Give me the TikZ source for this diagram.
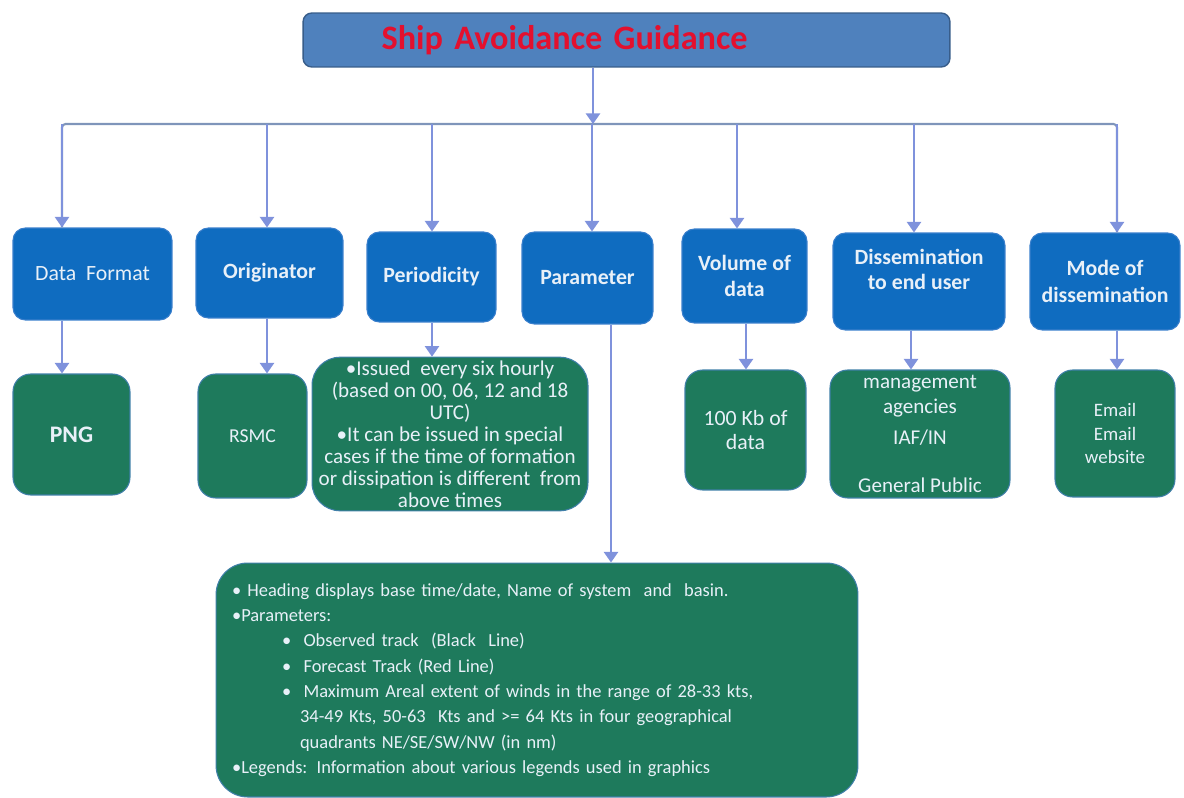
\documentclass[tikz,border=0pt]{standalone}
\usepackage{fontspec}
\setmainfont{Carlito}
\usetikzlibrary{arrows.meta, positioning}
\definecolor{titlefill}{HTML}{4F81BD}
\definecolor{titleline}{HTML}{385D8A}
\definecolor{titletext}{HTML}{E3102E}
\definecolor{headfill}{HTML}{0F6CC0}
\definecolor{headline}{HTML}{3A7FCC}
\definecolor{leaffill}{HTML}{1E7A5C}
\definecolor{leafline}{HTML}{3F7FA8}
\definecolor{bustone}{HTML}{7F95BA}
\definecolor{linktone}{HTML}{7F92DC}
\definecolor{boxtext}{HTML}{E8F0F8}

\begin{document}
\begin{tikzpicture}[
  x=0.02cm, y=-0.02cm,
  font=\fontsize{10.5}{13}\selectfont,
  bus/.style={
    draw=bustone,
    line width=1.2pt,
    rounded corners=2pt
  },
  link/.style={
    draw=linktone,
    line width=1.2pt,
    -{Triangle[width=8pt,length=6pt]}
  },
  headbox/.style={
    draw=headline,
    fill=headfill,
    text=boxtext,
    font=\fontsize{12.4}{15}\selectfont\bfseries,
    rounded corners=7pt,
    line width=0.6pt,
    align=center,
    inner sep=2pt
  },
  leafbox/.style={
    draw=leafline,
    fill=leaffill,
    text=boxtext,
    font=\fontsize{12.4}{14}\selectfont,
    rounded corners=10pt,
    line width=0.6pt,
    align=center,
    inner sep=2pt
  }
]
\useasboundingbox (0,0) rectangle (1184,798);

% Title
\node[
  draw=titleline,
  fill=titlefill,
  rounded corners=5pt,
  line width=0.8pt,
  minimum width=12.94cm,
  minimum height=1.08cm,
  text width=12.7cm,
  align=left,
  text=titletext,
  font=\fontsize{19.5}{22}\selectfont\bfseries
] (title) at (626.5,40) {\hspace*{1.45cm}Ship Avoidance Guidance};

% Top row
\node[headbox, font=\fontsize{12.4}{15}\selectfont, minimum width=3.18cm, minimum height=1.84cm] (format) at (92.5,274) {Data\ \ Format};
\node[headbox, minimum width=2.94cm, minimum height=1.80cm] (origin) at (269.5,273) {Originator};
\node[headbox, minimum width=2.58cm, minimum height=1.80cm] (period) at (431.5,277) {Periodicity};
\node[headbox, minimum width=2.62cm, minimum height=1.84cm] (param) at (587.5,278) {Parameter};
\node[headbox, minimum width=2.50cm, minimum height=1.88cm] (volume) at (744.5,276) {Volume of\\data};
\node[headbox, font=\fontsize{12.4}{14.2}\selectfont\bfseries, minimum width=3.44cm, minimum height=1.94cm] (enduser) at (919,281.5) {Dissemination\\to end user\\~};
\node[headbox, minimum width=3.00cm, minimum height=1.94cm] (mode) at (1105,281.5) {Mode of\\dissemination};

% Bottom row
\node[leafbox, font=\fontsize{13.5}{14}\selectfont\bfseries, minimum width=2.34cm, minimum height=2.42cm] (png) at (71.5,434.5) {PNG};
\node[leafbox, font=\fontsize{11.2}{14}\selectfont, minimum width=2.18cm, minimum height=2.48cm] (rsmc) at (252.5,436) {RSMC};
\node[leafbox, font=\fontsize{12}{12.5}\selectfont, rounded corners=16pt, minimum width=5.52cm, minimum height=3.04cm] (issue) at (450,434)
{\textbullet Issued\ \ every six hourly\\(based on 00, 06, 12 and 18\\UTC)\\\textbullet It can be issued in special\\cases if the time of formation\\or dissipation is different\ \ from\\above times};
\node[leafbox, minimum width=2.42cm, minimum height=2.40cm] (kb) at (745.5,430) {100 Kb of\\data};
\node[leafbox, font=\fontsize{12}{14}\selectfont, minimum width=3.60cm, minimum height=2.56cm] (users) at (920,434)
{management\\agencies\\[4pt]IAF/IN\\[13pt]General Public};
\node[leafbox, font=\fontsize{10.8}{13.6}\selectfont, minimum width=2.40cm, minimum height=2.54cm] (email) at (1115,433.5) {Email\\Email\\website};

% Parameter details
\node[leafbox, rounded corners=18pt, align=left, text width=12.2cm, inner sep=0pt,
  font=\fontsize{10.5}{14.4}\selectfont,
  minimum width=12.84cm, minimum height=4.68cm] (detail) at (537,680)
{\textbullet\ Heading displays base time/date, Name of system\ \ and\ \ basin.\\
\textbullet Parameters:\\
\hspace*{1.0cm}\textbullet\ \ Observed track\ \ (Black\ \ Line)\\
\hspace*{1.0cm}\textbullet\ \ Forecast Track (Red Line)\\
\hspace*{1.0cm}\textbullet\ \ Maximum Areal extent of winds in the range of 28-33 kts,\\
\hspace*{1.36cm}34-49 Kts, 50-63\ \ Kts and >= 64 Kts in four geographical\\
\hspace*{1.36cm}quadrants NE/SE/SW/NW (in nm)\\
\textbullet Legends: Information about various legends used in graphics};

% Bus
\coordinate (hub) at (593,124);
\coordinate (b1) at (62,124);
\coordinate (b2) at (267,124);
\coordinate (b3) at (432,124);
\coordinate (b4) at (592,124);
\coordinate (b5) at (737,124);
\coordinate (b6) at (914,124);
\coordinate (b7) at (1117,124);
\draw[bus] (b1 |- format.north) -- (b1) -- (b7) -- (b7 |- mode.north);
\draw[link] (title.south -| hub) -- (hub);

% Arrows to top row
\draw[link] (b1) -- (b1 |- format.north);
\draw[link] (b2) -- (b2 |- origin.north);
\draw[link] (b3) -- (b3 |- period.north);
\draw[link] (b4) -- (b4 |- param.north);
\draw[link] (b5) -- (b5 |- volume.north);
\draw[link] (b6) -- (b6 |- enduser.north);
\draw[link] (b7) -- (b7 |- mode.north);

% Arrows to bottom row
\coordinate (d1) at (62,0);
\coordinate (d2) at (267,0);
\coordinate (d3) at (432,0);
\coordinate (d4) at (611,0);
\coordinate (d5) at (746,0);
\coordinate (d6) at (911,0);
\coordinate (d7) at (1117,0);
\draw[link] (d1 |- format.south) -- (d1 |- png.north);
\draw[link] (d2 |- origin.south) -- (d2 |- rsmc.north);
\draw[link] (d3 |- period.south) -- (d3 |- issue.north);
\draw[link] (d4 |- param.south) -- (d4 |- detail.north);
\draw[link] (d5 |- volume.south) -- (d5 |- kb.north);
\draw[link] (d6 |- enduser.south) -- (d6 |- users.north);
\draw[link] (d7 |- mode.south) -- (d7 |- email.north);

\end{tikzpicture}
\end{document}
